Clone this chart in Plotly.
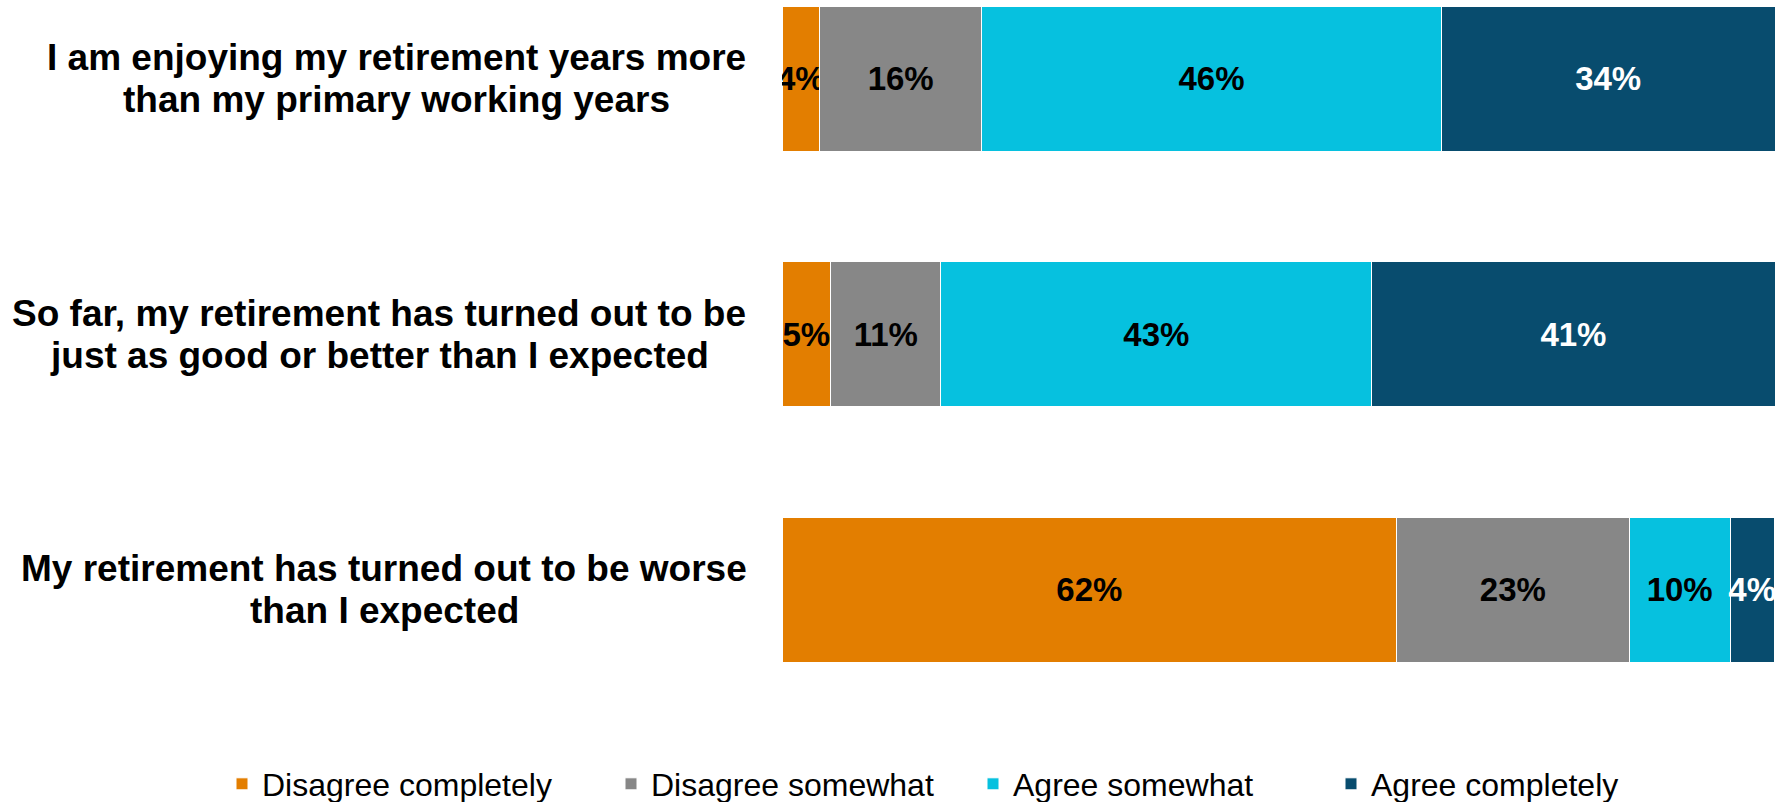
import plotly.graph_objects as go

categories = [
    "I am enjoying my retirement years more than my primary working years",
    "So far, my retirement has turned out to be just as good or better than I expected",
    "My retirement has turned out to be worse than I expected",
]
label_lines = [
    ["I am enjoying my retirement years more", "than my primary working years"],
    ["So far, my retirement has turned out to be", "just as good or better than I expected"],
    ["My retirement has turned out to be worse", "than I expected"],
]
series_names = ["Disagree completely", "Disagree somewhat", "Agree somewhat", "Agree completely"]
disagree_completely = [3.8, 4.9, 61.9]
disagree_somewhat = [16.3, 11.1, 23.4]
agree_somewhat = [46.3, 43.4, 10.2]
agree_completely = [33.6, 40.6, 4.4]
series_values = [disagree_completely, disagree_somewhat, agree_somewhat, agree_completely]
colors = ["#E37E00", "#878787", "#06C1DF", "#084C6E"]
text_colors = ["black", "black", "black", "white"]
legend_widths = [344, 317, 313, 260]

W, H = 1781, 802
L, R, T, B = 782, 6, 0, 102
FONT = "Liberation Sans, Arial"
fig = go.Figure()
for name, vals, col, tc, lw in zip(series_names, series_values, colors, text_colors, legend_widths):
    fig.add_trace(go.Bar(
        y=categories, x=vals, name=name, orientation="h",
        marker=dict(color=col, line=dict(color="white", width=1)),
        width=0.567, legendwidth=lw,
        texttemplate="%{x:.0f}%", textposition="inside", insidetextanchor="middle",
        textangle=0, constraintext="none",
        textfont=dict(family=FONT, size=33, color=tc, weight="bold"),
        hoverinfo="skip",
    ))

# label block centres (px, from left of page) so each two-line label is centred
block_centres = [396, 379, 384]
for c, lines, cx in zip(categories, label_lines, block_centres):
    for i, ln in enumerate(lines):
        fig.add_annotation(
            xref="paper", yref="y", x=(cx - L) / (W - L - R), y=c,
            xanchor="center", yanchor="middle",
            yshift=21 if i == 0 else -21, text=ln, showarrow=False,
            font=dict(family=FONT, size=37, color="black", weight="bold"),
        )

plot_h = H - T - B
fig.update_layout(
    width=W, height=H, barmode="stack",
    margin=dict(l=L, r=R, t=T, b=B, autoexpand=False),
    plot_bgcolor="white", paper_bgcolor="white",
    xaxis=dict(range=[0, 100], visible=False),
    yaxis=dict(type="category", range=[2.431, -0.309], showticklabels=False,
               showgrid=False, zeroline=False, showline=False, ticks=""),
    showlegend=True,
    legend=dict(orientation="h", xref="paper", yref="paper",
                x=(222 - L) / (W - L - R), y=-(784 - plot_h) / plot_h,
                xanchor="left", yanchor="middle",
                font=dict(family=FONT, size=32, color="black"),
                traceorder="normal", itemwidth=30),
)

fig.write_html("out.html", config={"displayModeBar": False},
               post_script="document.body.style.margin='0';document.body.style.overflow='hidden';")
